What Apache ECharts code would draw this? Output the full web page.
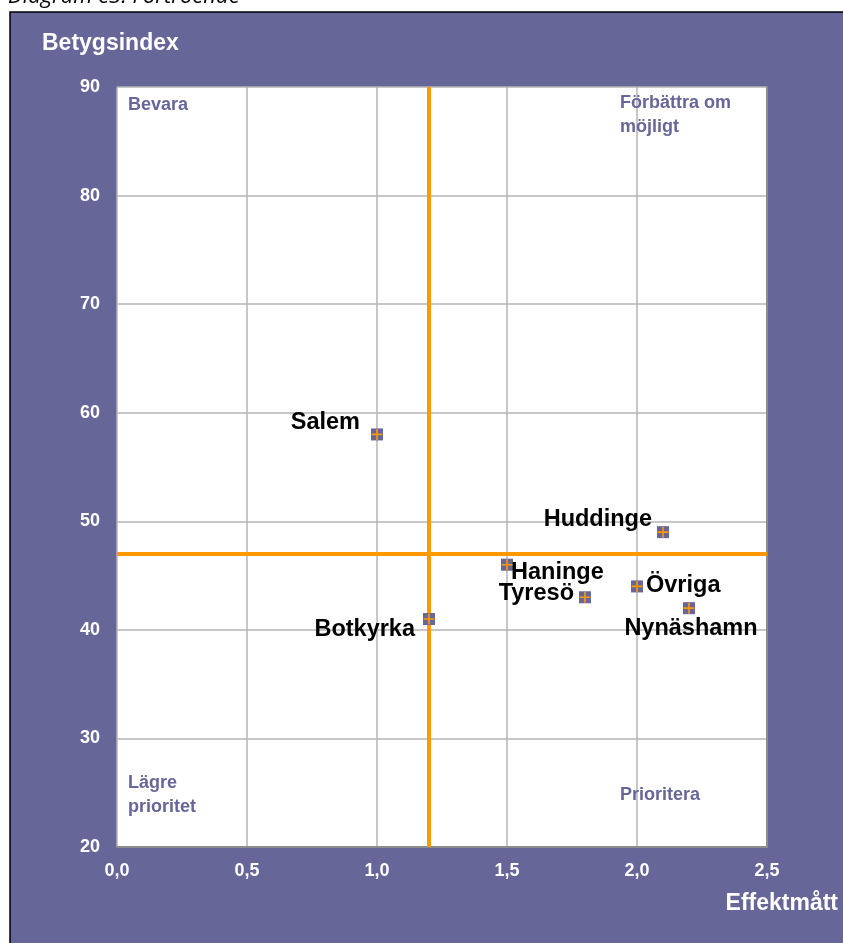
<!DOCTYPE html>
<html>
<head>
<meta charset="utf-8">
<script src="https://cdn.jsdelivr.net/npm/echarts@6/dist/echarts.min.js"></script>
<style>
html,body{margin:0;padding:0;background:#fff;}
#chart{width:843px;height:943px;}
</style>
</head>
<body>
<div id="chart"></div>
<script>
// ---- data ----
const names = ['Salem', 'Huddinge', 'Haninge', 'Tyresö', 'Övriga', 'Nynäshamn', 'Botkyrka'];
const effektmatt = [1.0, 2.1, 1.5, 1.8, 2.0, 2.2, 1.2];
const betygsindex = [58, 49, 46, 43, 44, 42, 41];
const refEffektmatt = 1.2;
const refBetygsindex = 47;
const xMin = 0, xMax = 2.5, xStep = 0.5;
const yMin = 20, yMax = 90, yStep = 10;
const quadrantTexts = ['Bevara', 'Förbättra om\nmöjligt', 'Lägre\nprioritet', 'Prioritera'];
const caption = 'Diagram e3: Förtroende';
const yTitle = 'Betygsindex';
const xTitle = 'Effektmått';

// ---- styling ----
const FONT = "'Liberation Sans', Arial, sans-serif";
const PURPLE = '#666699';
const ORANGE = '#FF9900';
const labelLayout = {
  'Salem':     { position: 'left',   offset: [-6, -12] },
  'Huddinge':  { position: 'left',   offset: [0, -13] },
  'Haninge':   { position: 'right',  offset: [-7, 8] },
  'Tyresö':    { position: 'left',   offset: [0, -4] },
  'Övriga':    { position: 'right',  offset: [-2, -1] },
  'Nynäshamn': { position: 'bottom', offset: [2, -3] },
  'Botkyrka':  { position: 'left',   offset: [-3, 11] }
};
const quadrantPos = [[128, 93], [620, 91], [128, 771], [620, 783]];

const chart = echarts.init(document.getElementById('chart'), null, { renderer: 'canvas' });

const pts = names.map((n, i) => ({ name: n, value: [effektmatt[i], betygsindex[i]] }));
const labeled = names.map((n, i) => ({
  name: n, value: [effektmatt[i], betygsindex[i]],
  label: Object.assign({ show: true }, labelLayout[n])
}));

const graphics = [
  { type: 'rect', z: -10, shape: { x: 10, y: 12, width: 840, height: 940 },
    style: { fill: PURPLE, stroke: '#000', lineWidth: 1.5 } },
  { type: 'text', z: 10, left: 8, top: -14,
    style: { text: caption, fontFamily: "'Open Sans', sans-serif", fontStyle: 'italic',
             fontSize: 22, fill: '#000' } },
  { type: 'text', z: 10, left: 42, top: 32,
    style: { text: yTitle, font: 'bold 23px ' + FONT, fill: '#fff' } },
  { type: 'text', z: 10, right: 5, top: 892,
    style: { text: xTitle, font: 'bold 23px ' + FONT, fill: '#fff' } }
];
quadrantTexts.forEach((t, i) => {
  graphics.push({ type: 'text', z: 10, left: quadrantPos[i][0], top: quadrantPos[i][1],
    style: { text: t, font: 'bold 18px ' + FONT, fill: PURPLE, lineHeight: 24 } });
});

chart.setOption({
  animation: false,
  backgroundColor: 'transparent',
  textStyle: { fontFamily: FONT },
  graphic: graphics,
  grid: { left: 117, top: 87, width: 650, height: 760, show: true,
          backgroundColor: '#fff', borderWidth: 0, z: 0 },
  xAxis: {
    type: 'value', min: xMin, max: xMax, interval: xStep,
    axisLine: { show: true, onZero: false, lineStyle: { color: '#8c8c8c', width: 2 } },
    axisTick: { show: false },
    splitLine: { show: true, lineStyle: { color: '#b4b4b4', width: 1.5 } },
    axisLabel: { color: '#fff', fontWeight: 'bold', fontSize: 18, margin: 15,
                 formatter: v => v.toFixed(1).replace('.', ',') }
  },
  yAxis: [{
    type: 'value', min: yMin, max: yMax, interval: yStep,
    axisLine: { show: false },
    axisTick: { show: false },
    splitLine: { show: true, lineStyle: { color: '#b4b4b4', width: 1.5 } },
    axisLabel: { color: '#fff', fontWeight: 'bold', fontSize: 18, margin: 17 }
  }, {
    type: 'value', min: yMin, max: yMax, interval: yStep, position: 'right',
    axisLine: { show: true, lineStyle: { color: '#8c8c8c', width: 2 } },
    axisTick: { show: false }, splitLine: { show: false }, axisLabel: { show: false }
  }],
  series: [
    {
      type: 'scatter', z: 2, data: [], silent: true,
      markLine: {
        silent: true, symbol: 'none', label: { show: false },
        lineStyle: { color: ORANGE, width: 4, type: 'solid' },
        data: [{ xAxis: refEffektmatt }, { yAxis: refBetygsindex }]
      }
    },
    {
      type: 'scatter', z: 5, symbol: 'rect', symbolSize: 12,
      itemStyle: { color: PURPLE, opacity: 1 },
      data: labeled,
      label: { show: true, color: '#000', fontWeight: 'bold', fontSize: 23.5,
               fontFamily: FONT, distance: 5, formatter: '{b}' }
    },
    {
      type: 'scatter', z: 6, silent: true,
      symbol: 'path://M0,4.25H10V5.75H0Z M4.25,0H5.75V10H4.25Z', symbolSize: 11,
      itemStyle: { color: ORANGE, opacity: 1 },
      data: pts
    }
  ]
});
</script>
</body>
</html>
